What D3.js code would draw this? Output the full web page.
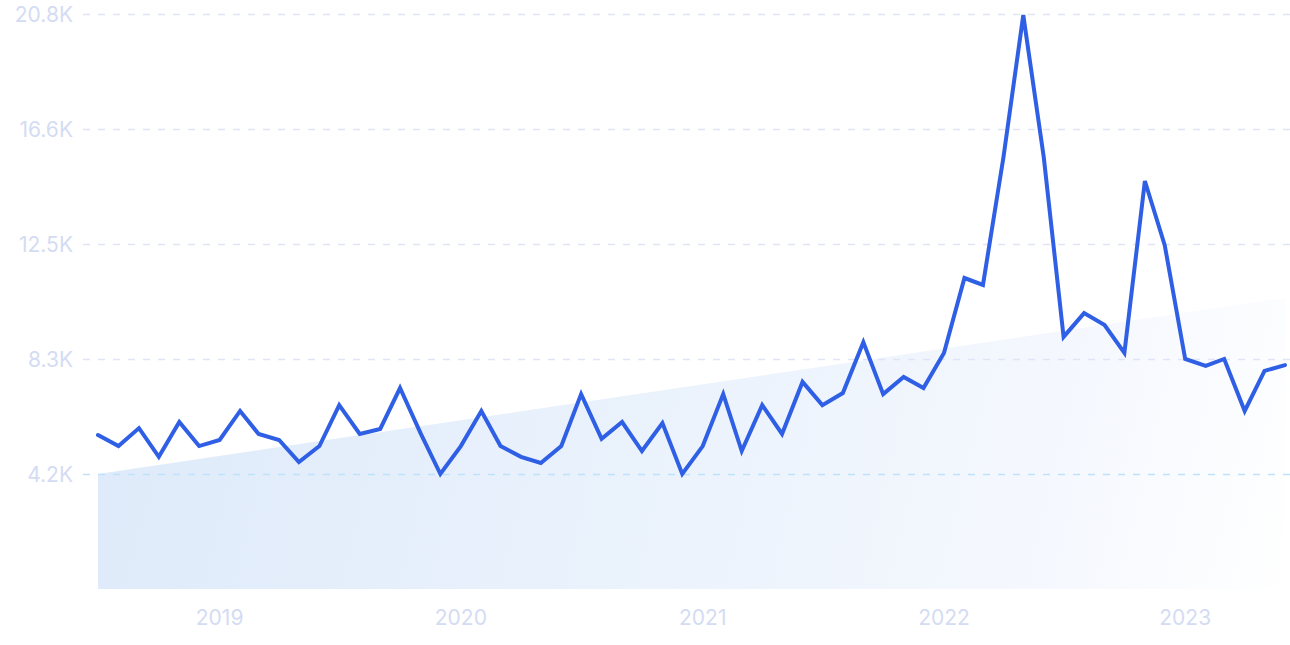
<!DOCTYPE html>
<html>
<head>
<meta charset="utf-8">
<script src="https://cdn.jsdelivr.net/npm/d3@7"></script>
<style>
  html, body { margin: 0; padding: 0; background: #ffffff; }
  svg { display: block; }
  text { font-family: Inter, "Noto Sans", sans-serif; }
</style>
</head>
<body>
<svg id="chart" width="1290" height="645"></svg>
<script>
const months = [
  "2018-07","2018-08","2018-09","2018-10","2018-11","2018-12",
  "2019-01","2019-02","2019-03","2019-04","2019-05","2019-06","2019-07","2019-08","2019-09","2019-10","2019-11","2019-12",
  "2020-01","2020-02","2020-03","2020-04","2020-05","2020-06","2020-07","2020-08","2020-09","2020-10","2020-11","2020-12",
  "2021-01","2021-02","2021-03","2021-04","2021-05","2021-06","2021-07","2021-08","2021-09","2021-10","2021-11","2021-12",
  "2022-01","2022-02","2022-03","2022-04","2022-05","2022-06","2022-07","2022-08","2022-09","2022-10","2022-11","2022-12",
  "2023-01","2023-02","2023-03","2023-04","2023-05","2023-06"
];
const values = [
  5570, 5170, 5820, 4780, 6040, 5170,
  5390, 6440, 5610, 5390, 4590, 5170, 6650, 5610, 5790, 7270, 5640, 4160,
  5170, 6440, 5170, 4780, 4560, 5170, 7050, 5430, 6040, 4990, 6000, 4160,
  5170, 7050, 4990, 6650, 5610, 7490, 6650, 7090, 8930, 7050, 7670, 7270,
  8540, 11250, 11000, 15620, 20760, 15620, 9120, 9980, 9550, 8540, 14760, 12440,
  8320, 8070, 8320, 6440, 7890, 8100
];
const trendValues = [4160, 10530];
const yTicks = [4160, 8320, 12480, 16640, 20800];
const yTickLabels = ["4.2K", "8.3K", "12.5K", "16.6K", "20.8K"];
const xTickYears = ["2019", "2020", "2021", "2022", "2023"];

const parse = d3.timeParse("%Y-%m");
const dates = months.map(parse);
const data = dates.map((d, i) => ({ date: d, value: values[i] }));

const svg = d3.select("#chart");
const x = d3.scaleTime().domain(d3.extent(dates)).range([98, 1285]);
const y = d3.scaleLinear().domain([0, 20800]).range([589, 14]);

// gradient
const defs = svg.append("defs");
const grad = defs.append("linearGradient").attr("id", "trendGrad")
  .attr("gradientUnits", "userSpaceOnUse")
  .attr("x1", 98).attr("y1", 330).attr("x2", 1285).attr("y2", 610);
grad.append("stop").attr("offset", "0%").attr("stop-color", "#deeafa");
grad.append("stop").attr("offset", "45%").attr("stop-color", "#eaf2fc");
grad.append("stop").attr("offset", "80%").attr("stop-color", "#f5f8fe");
grad.append("stop").attr("offset", "100%").attr("stop-color", "#ffffff");

// trend area
const trendData = [
  { date: dates[0], value: trendValues[0] },
  { date: dates[dates.length - 1], value: trendValues[1] }
];
svg.append("path")
  .datum(trendData)
  .attr("fill", "url(#trendGrad)")
  .attr("d", d3.area().x(d => x(d.date)).y0(y(0)).y1(d => y(d.value)));

// gridlines
svg.append("g").selectAll("line").data(yTicks).join("line")
  .attr("x1", 83).attr("x2", 1290)
  .attr("y1", d => Math.round(y(d)) + 0.5).attr("y2", d => Math.round(y(d)) + 0.5)
  .attr("stroke", (d, i) => i === 0 ? "#bfe2fb" : "#dfe5f7")
  .attr("stroke-width", 1.3)
  .attr("stroke-dasharray", "7,8");

// y labels
svg.append("g").selectAll("text").data(yTicks).join("text")
  .attr("x", 73).attr("y", d => y(d))
  .attr("dy", "0.36em")
  .attr("text-anchor", "end")
  .attr("fill", "#d4dcf3")
  .attr("font-size", 21)
  .text((d, i) => yTickLabels[i]);

// x labels
svg.append("g").selectAll("text").data(xTickYears).join("text")
  .attr("x", d => x(d3.timeParse("%Y")(d)))
  .attr("y", 617)
  .attr("dy", "0.36em")
  .attr("text-anchor", "middle")
  .attr("fill", "#d4dcf3")
  .attr("font-size", 21)
  .text(d => d);

// line
svg.append("path")
  .datum(data)
  .attr("fill", "none")
  .attr("stroke", "#2f5fe4")
  .attr("stroke-width", 4)
  .attr("stroke-linejoin", "miter")
  .attr("stroke-linecap", "round")
  .attr("d", d3.line().x(d => x(d.date)).y(d => y(d.value)));
</script>
</body>
</html>
